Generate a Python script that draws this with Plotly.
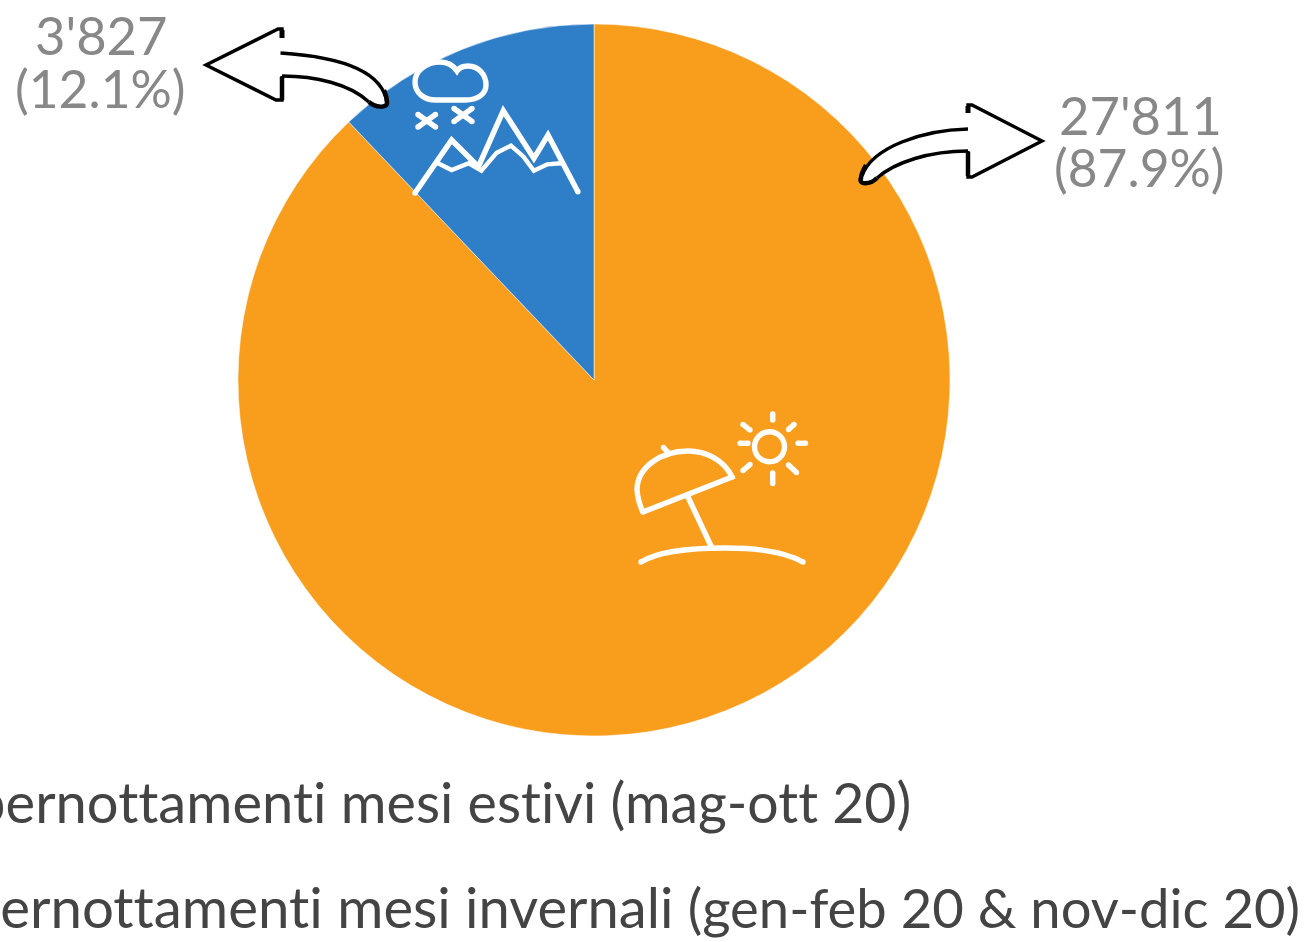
import plotly.graph_objects as go

W, H = 1306, 942

# --- data -------------------------------------------------------------
legend_heads = ["pernottamenti ", "pernottamenti "]
legend_mids = ["mesi estivi ", "mesi invernali "]
legend_tails = ["(mag-ott 20)", "(gen-feb 20 & nov-dic 20)"]
categories = ["pernottamenti mesi estivi (mag-ott 20)",
              "pernottamenti mesi invernali (gen-feb 20 & nov-dic 20)"]
values = [27811, 3827]
value_labels = ["27'811", "3'827"]
pct_labels = ["(87.9%)", "(12.1%)"]
colors = ["#F99D1C", "#2F7EC8"]

# --- helpers: page pixels -> paper coordinates ------------------------
def px(x): return x / W
def py(y): return 1 - y / H

def path_str(cmds):
    out = []
    for c in cmds:
        letter, coords = c[0], c[1:]
        s = letter + " " + " ".join(f"{px(x):.6f},{py(y):.6f}" for x, y in coords)
        out.append(s)
    return " ".join(out)

shapes = []
ICON = 5.4
ARROW = 3.4

def add_path(cmds, color="white", width=ICON, fill=None, close=False):
    d = path_str(cmds) + (" Z" if close else "")
    shapes.append(dict(type="path", xref="paper", yref="paper", path=d,
                       line=dict(color=color, width=width),
                       fillcolor=fill if fill else "rgba(0,0,0,0)"))

def dot(x, y, d=ICON, color="white"):
    r = d / 2
    shapes.append(dict(type="circle", xref="paper", yref="paper",
                       x0=px(x - r), x1=px(x + r), y0=py(y + r), y1=py(y - r),
                       fillcolor=color, line=dict(width=0)))

def stroke(points, width=ICON, color="white"):
    cmds = [("M", points[0])] + [("L", p) for p in points[1:]]
    add_path(cmds, color=color, width=width)
    dot(*points[0], d=width, color=color)
    dot(*points[-1], d=width, color=color)

# --- beach icon -------------------------------------------------------
add_path([("M", (643, 512)), ("L", (732, 477)),
          ("C", (724, 460), (706, 451), (688, 451)),
          ("C", (660, 451), (637, 468), (637, 490)),
          ("Q", (638, 502), (643, 512))])
dot(643, 512); dot(732, 477)
stroke([(663.5, 447.5), (667.5, 452)])
stroke([(688, 497), (711, 546)])
add_path([("M", (641, 562)), ("C", (657, 552), (690, 548), (725, 548)),
          ("C", (755, 548), (785, 552), (803, 562))])
dot(641, 562); dot(803, 562)
shapes.append(dict(type="circle", xref="paper", yref="paper",
                   x0=px(769.5 - 15), x1=px(769.5 + 15), y0=py(446.7 + 15), y1=py(446.7 - 15),
                   line=dict(color="white", width=ICON), fillcolor="rgba(0,0,0,0)"))
for ray in [[(772.7, 414), (772.7, 420)], [(788.5, 429.5), (794, 424.5)],
            [(798, 443.3), (805.5, 443.3)], [(788.5, 465), (796.5, 472.5)],
            [(772.7, 473), (772.7, 483.5)], [(743, 470.5), (750, 464.5)],
            [(740, 443.3), (748, 443.3)], [(743, 424.5), (750, 430)]]:
    stroke(ray)

# --- mountain icon ----------------------------------------------------
add_path([("M", (436, 100)), ("L", (465, 100)),
          ("C", (478, 100), (486, 94), (486, 85)),
          ("C", (486, 74), (478, 66), (468, 66)),
          ("C", (463, 66), (459, 68), (457, 71)),
          ("C", (453, 65), (447, 62), (440, 62)),
          ("C", (426, 62), (415, 71), (415, 82)),
          ("C", (415, 93), (424, 100), (436, 100))])
stroke([(418, 114.5), (435.5, 127)])
stroke([(435.5, 114.5), (418, 127)])
stroke([(454, 108.5), (472, 121.5)])
stroke([(472, 108.5), (454, 121.5)])
stroke([(415, 193), (451.6, 140), (478.4, 166.7), (503.3, 110.7),
        (533.9, 158.3), (548, 135), (577.9, 191.7)])
stroke([(438, 163.3), (451.6, 170), (468.8, 163.3), (481.4, 170.7), (496.7, 152.7),
        (510.9, 145.7), (523.5, 156.7), (533.9, 170.7), (547.3, 164.3), (560.7, 163.3)], width=4.4)

# --- callout arrows ---------------------------------------------------
left_fill = [("M", (206, 65)), ("L", (279, 29)), ("L", (282, 29)), ("L", (282, 53)),
             ("C", (344, 57), (383, 73), (387, 103)),
             ("C", (387, 108), (376, 108), (369, 102)),
             ("C", (350, 84), (315, 76), (282, 76)),
             ("L", (282, 100)), ("L", (276, 100))]
add_path(left_fill, color="rgba(0,0,0,0)", width=0, fill="white", close=True)
add_path([("M", (282, 38)), ("L", (282, 29)), ("L", (278, 29)), ("L", (206, 65)),
          ("L", (276, 100)), ("L", (282, 100)), ("L", (282, 76))], color="black", width=ARROW)
add_path([("M", (282, 38)), ("L", (282, 30))], color="black", width=5)
add_path([("M", (282, 100)), ("L", (282, 77))], color="black", width=4.5)
add_path([("M", (280.5, 53)), ("C", (344, 57), (383, 73), (387, 103))], color="black", width=ARROW)
add_path([("M", (282, 76)), ("C", (315, 76), (350, 84), (369, 102))], color="black", width=ARROW)
add_path([("M", (384, 90)), ("C", (386, 95), (387, 100), (387, 103)),
          ("C", (387, 108), (376, 108), (369, 102))], color="black", width=4.5)

right_fill = [("M", (1042, 141)), ("L", (972, 105)), ("L", (968, 105)), ("L", (968, 129)),
              ("C", (923, 130), (872, 147), (862, 176)),
              ("C", (858, 185), (870, 185), (877, 178)),
              ("C", (895, 162), (930, 151), (968, 151)),
              ("L", (968, 177)), ("L", (972, 177))]
add_path(right_fill, color="rgba(0,0,0,0)", width=0, fill="white", close=True)
add_path([("M", (968, 113)), ("L", (968, 105)), ("L", (972, 105)), ("L", (1042, 141)),
          ("L", (972, 177)), ("L", (968, 177)), ("L", (968, 151))], color="black", width=ARROW)
add_path([("M", (968, 113)), ("L", (968, 106))], color="black", width=5)
add_path([("M", (968, 176)), ("L", (968, 152))], color="black", width=4.5)
add_path([("M", (968, 129)), ("C", (923, 130), (872, 147), (862, 176))], color="black", width=ARROW)
add_path([("M", (877, 178)), ("C", (895, 162), (930, 151), (968, 151))], color="black", width=ARROW)
add_path([("M", (866, 165)), ("C", (862, 172), (861, 176), (861, 178)),
          ("C", (858, 185), (870, 185), (877, 178))], color="black", width=4.5)

# --- text -------------------------------------------------------------
DESC = 0.215  # fraction of font size below the baseline in the annotation box
def label(s, x, base, size, color, xanchor="center"):
    return dict(text=s, x=px(x), y=py(base + size * DESC), xref="paper", yref="paper",
                showarrow=False, xanchor=xanchor, yanchor="bottom", borderpad=0,
                font=dict(family="Lato", size=size, color=color), align="center")

def sized(s, size):
    return f'<span style="font-size:{size}px">{s}</span>'

legend_text = [
    sized(legend_heads[0], 56.1) + sized(legend_mids[0], 55.6) + sized(legend_tails[0], 55.4),
    sized(legend_heads[1], 56.4) + sized(legend_mids[1], 56.1) + sized(legend_tails[1], 54.4),
]

annotations = [
    label(value_labels[1], 101, 56, 52.5, "#888888"),
    label(pct_labels[1], 100.5, 109, 51.5, "#888888"),
    label(value_labels[0], 1140, 136, 52.5, "#888888"),
    label(pct_labels[0], 1139, 188, 51.5, "#888888"),
    label(legend_text[0], 911, 824, 56, "#444444", "right"),
    label(legend_text[1], 1301, 929, 56, "#444444", "right"),
]

fig = go.Figure(go.Pie(
    labels=categories, values=values, sort=False, direction="clockwise", rotation=0,
    marker=dict(colors=colors, line=dict(color="white", width=0.5)),
    textinfo="none", hoverinfo="label+value+percent", showlegend=False,
    domain=dict(x=[px(238), px(950)], y=[py(736), py(24)]),
))
fig.update_layout(width=W, height=H, margin=dict(l=0, r=0, t=0, b=0),
                  paper_bgcolor="white", plot_bgcolor="white",
                  shapes=shapes, annotations=annotations)

page_fix = """
document.body.style.margin = '0';
document.documentElement.style.overflow = 'hidden';
var st = document.createElement('style');
st.textContent = 'svg text { font-variant-ligatures: none !important; font-feature-settings: "liga" 0, "clig" 0 !important; }';
document.head.appendChild(st);
Plotly.redraw(document.getElementById('{plot_id}'));
"""
fig.write_html("out.html", config=dict(displayModeBar=False), post_script=page_fix)
